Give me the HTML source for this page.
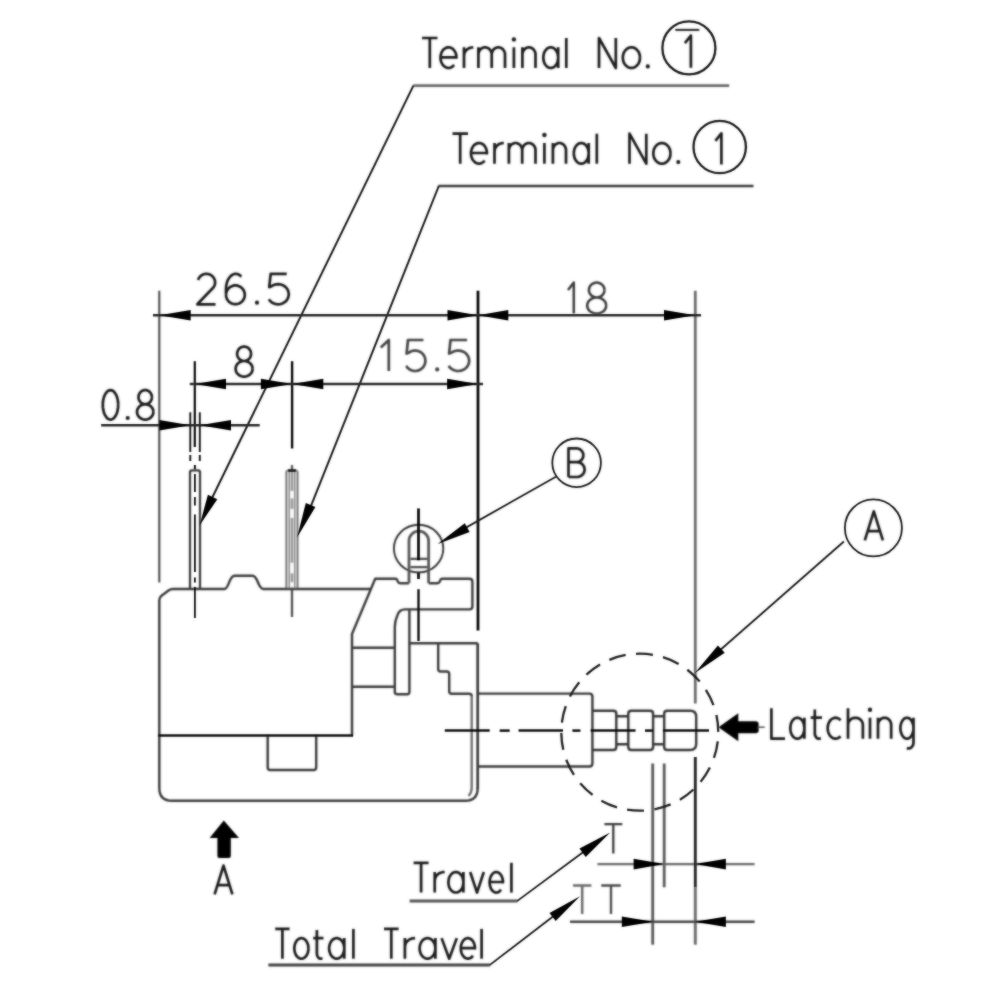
<!DOCTYPE html>
<html><head><meta charset="utf-8"><title>Switch dimension drawing</title>
<style>
html,body{margin:0;padding:0;background:#fff;}
body{width:1002px;height:1002px;overflow:hidden;font-family:"Liberation Sans",sans-serif;}
svg{display:block;}
</style></head><body>
<svg width="1002" height="1002" viewBox="0 0 1002 1002">
<defs><filter id="soft" x="-2%" y="-2%" width="104%" height="104%"><feGaussianBlur stdDeviation="0.9" result="b"/><feComposite in="SourceGraphic" in2="b" operator="arithmetic" k1="0" k2="0.35" k3="0.65" k4="0"/></filter>
<filter id="crisp" x="-2%" y="-2%" width="104%" height="104%"><feGaussianBlur stdDeviation="0.9" result="b"/><feComposite in="SourceGraphic" in2="b" operator="arithmetic" k1="0" k2="0.55" k3="0.45" k4="0"/></filter></defs>
<rect width="1002" height="1002" fill="#fff"/>
<g filter="url(#soft)">
<path d="M422 38 L437.5 38 M429.8 38 L429.8 68" fill="none" stroke="#1e1e1e" stroke-width="2.7" stroke-linejoin="round" stroke-linecap="butt"/>
<path d="M440.5 57.4 L456.5 57.4 L456.5 57.6 L456.3 55.5 L455.8 53.4 L454.9 51.5 L453.8 49.9 L452.4 48.6 L450.9 47.8 L449.2 47.3 L447.5 47.4 L445.9 47.9 L444.4 48.8 L443 50.1 L441.9 51.8 L441.1 53.7 L440.6 55.8 L440.5 58 L440.7 60.1 L441.3 62.2 L442.2 64 L443.4 65.6 L444.8 66.8 L446.4 67.6 L448 68 L449.7 67.9 L451.3 67.3 L452.8 66.3 L454.2 65" fill="none" stroke="#1e1e1e" stroke-width="2.7" stroke-linejoin="round" stroke-linecap="butt"/>
<path d="M464 68 L464 47.3 M464 56 L464 56 L464.2 54 L464.9 52.1 L466 50.5 L467.5 49.1 L469.3 48.1 L471.3 47.5 L473.3 47.3" fill="none" stroke="#1e1e1e" stroke-width="2.7" stroke-linejoin="round" stroke-linecap="butt"/>
<path d="M478.4 68 L478.4 47.3 M478.4 54.5 L478.4 54.5 L478.5 53 L479 51.6 L479.7 50.3 L480.6 49.1 L481.7 48.3 L483 47.7 L484.4 47.3 L485.7 47.3 L487.1 47.7 L488.4 48.3 L489.5 49.1 L490.4 50.3 L491.1 51.6 L491.6 53 L491.7 54.5 L491.7 68 M491.7 54.5 L491.7 54.5 L491.8 53 L492.3 51.6 L493 50.3 L493.9 49.1 L495 48.3 L496.3 47.7 L497.7 47.3 L499 47.3 L500.4 47.7 L501.7 48.3 L502.8 49.1 L503.7 50.3 L504.4 51.6 L504.9 53 L505 54.5 L505 68" fill="none" stroke="#1e1e1e" stroke-width="2.7" stroke-linejoin="round" stroke-linecap="butt"/>
<path d="M513.9 68 L513.9 47.3" fill="none" stroke="#1e1e1e" stroke-width="2.7" stroke-linejoin="round" stroke-linecap="butt"/>
<circle cx="513.9" cy="39.4" r="2.2" fill="#1e1e1e"/>
<path d="M522.4 68 L522.4 47.3 M522.4 54.5 L522.4 54.5 L522.5 53 L523 51.6 L523.7 50.3 L524.6 49.1 L525.7 48.3 L526.9 47.7 L528.3 47.3 L529.6 47.3 L531 47.7 L532.2 48.3 L533.3 49.1 L534.2 50.3 L534.9 51.6 L535.4 53 L535.5 54.5 L535.5 68" fill="none" stroke="#1e1e1e" stroke-width="2.7" stroke-linejoin="round" stroke-linecap="butt"/>
<path d="M558.2 57.6 L558 55.5 L557.6 53.4 L556.8 51.6 L555.7 50 L554.5 48.7 L553.1 47.8 L551.5 47.4 L550 47.4 L548.4 47.8 L547 48.7 L545.8 50 L544.7 51.6 L543.9 53.4 L543.5 55.5 L543.3 57.6 L543.5 59.8 L543.9 61.9 L544.7 63.7 L545.8 65.3 L547 66.6 L548.4 67.5 L550 67.9 L551.5 67.9 L553.1 67.5 L554.5 66.6 L555.7 65.3 L556.8 63.7 L557.6 61.9 L558 59.8 L558.2 57.7 M558.2 68 L558.2 47.3" fill="none" stroke="#1e1e1e" stroke-width="2.7" stroke-linejoin="round" stroke-linecap="butt"/>
<path d="M566.3 68 L566.3 38" fill="none" stroke="#1e1e1e" stroke-width="2.7" stroke-linejoin="round" stroke-linecap="butt"/>
<path d="M599 68 L599 38 L615.8 68 L615.8 38" fill="none" stroke="#1e1e1e" stroke-width="2.7" stroke-linejoin="round" stroke-linecap="butt"/>
<path d="M640 57.6 L639.8 55.5 L639.3 53.4 L638.4 51.6 L637.2 50 L635.7 48.7 L634.1 47.8 L632.3 47.4 L630.5 47.4 L628.7 47.8 L627.1 48.7 L625.6 50 L624.4 51.6 L623.5 53.4 L623 55.5 L622.8 57.6 L623 59.8 L623.5 61.9 L624.4 63.7 L625.6 65.3 L627.1 66.6 L628.7 67.5 L630.5 67.9 L632.3 67.9 L634.1 67.5 L635.7 66.6 L637.2 65.3 L638.4 63.7 L639.3 61.9 L639.8 59.8 L640 57.7" fill="none" stroke="#1e1e1e" stroke-width="2.7" stroke-linejoin="round" stroke-linecap="butt"/>
<circle cx="647.8" cy="66.4" r="2.1" fill="#1e1e1e"/>
<path d="M684.9 43.2 L690.9 35.5 L690.9 67.7" fill="none" stroke="#1e1e1e" stroke-width="2.7" stroke-linejoin="round" stroke-linecap="butt"/>
<line x1="675.3" y1="29.9" x2="699.3" y2="29.9" stroke="#1e1e1e" stroke-width="2" stroke-linecap="butt"/>
<path d="M452.5 133.7 L468 133.7 M460.2 133.7 L460.2 163.7" fill="none" stroke="#1e1e1e" stroke-width="2.7" stroke-linejoin="round" stroke-linecap="butt"/>
<path d="M471 153 L487 153 L487 153.3 L486.8 151.2 L486.3 149.1 L485.4 147.2 L484.3 145.6 L482.9 144.3 L481.4 143.5 L479.7 143 L478 143.1 L476.4 143.6 L474.9 144.5 L473.5 145.8 L472.4 147.5 L471.6 149.4 L471.1 151.5 L471 153.7 L471.2 155.8 L471.8 157.9 L472.7 159.7 L473.9 161.3 L475.3 162.5 L476.9 163.3 L478.5 163.7 L480.2 163.6 L481.8 163 L483.3 162 L484.7 160.7" fill="none" stroke="#1e1e1e" stroke-width="2.7" stroke-linejoin="round" stroke-linecap="butt"/>
<path d="M494.5 163.7 L494.5 143 M494.5 151.7 L494.5 151.7 L494.7 149.7 L495.4 147.8 L496.5 146.2 L498 144.8 L499.8 143.8 L501.8 143.2 L503.8 143" fill="none" stroke="#1e1e1e" stroke-width="2.7" stroke-linejoin="round" stroke-linecap="butt"/>
<path d="M508.9 163.7 L508.9 143 M508.9 150.2 L508.9 150.2 L509 148.7 L509.5 147.3 L510.2 146 L511.1 144.8 L512.2 144 L513.5 143.4 L514.9 143 L516.2 143 L517.6 143.4 L518.9 144 L520 144.8 L520.9 146 L521.6 147.3 L522.1 148.7 L522.2 150.2 L522.2 163.7 M522.2 150.2 L522.2 150.2 L522.3 148.7 L522.8 147.3 L523.5 146 L524.4 144.8 L525.5 144 L526.8 143.4 L528.2 143 L529.5 143 L530.9 143.4 L532.2 144 L533.3 144.8 L534.2 146 L534.9 147.3 L535.4 148.7 L535.5 150.2 L535.5 163.7" fill="none" stroke="#1e1e1e" stroke-width="2.7" stroke-linejoin="round" stroke-linecap="butt"/>
<path d="M544.4 163.7 L544.4 143" fill="none" stroke="#1e1e1e" stroke-width="2.7" stroke-linejoin="round" stroke-linecap="butt"/>
<circle cx="544.4" cy="135" r="2.2" fill="#1e1e1e"/>
<path d="M552.9 163.7 L552.9 143 M552.9 150.2 L552.9 150.2 L553 148.7 L553.5 147.3 L554.2 146 L555.1 144.8 L556.2 144 L557.4 143.4 L558.8 143 L560.1 143 L561.5 143.4 L562.7 144 L563.8 144.8 L564.7 146 L565.4 147.3 L565.9 148.7 L566 150.2 L566 163.7" fill="none" stroke="#1e1e1e" stroke-width="2.7" stroke-linejoin="round" stroke-linecap="butt"/>
<path d="M588.7 153.3 L588.5 151.2 L588.1 149.1 L587.3 147.3 L586.2 145.7 L585 144.4 L583.6 143.5 L582 143.1 L580.5 143.1 L578.9 143.5 L577.5 144.4 L576.3 145.7 L575.2 147.3 L574.4 149.1 L574 151.2 L573.8 153.3 L574 155.5 L574.4 157.6 L575.2 159.4 L576.3 161 L577.5 162.3 L578.9 163.2 L580.5 163.6 L582 163.6 L583.6 163.2 L585 162.3 L586.2 161 L587.3 159.4 L588.1 157.6 L588.5 155.5 L588.7 153.3 M588.7 163.7 L588.7 143" fill="none" stroke="#1e1e1e" stroke-width="2.7" stroke-linejoin="round" stroke-linecap="butt"/>
<path d="M596.8 163.7 L596.8 133.7" fill="none" stroke="#1e1e1e" stroke-width="2.7" stroke-linejoin="round" stroke-linecap="butt"/>
<path d="M629.5 163.7 L629.5 133.7 L646.3 163.7 L646.3 133.7" fill="none" stroke="#1e1e1e" stroke-width="2.7" stroke-linejoin="round" stroke-linecap="butt"/>
<path d="M670.5 153.3 L670.3 151.2 L669.8 149.1 L668.9 147.3 L667.7 145.7 L666.2 144.4 L664.6 143.5 L662.8 143.1 L661 143.1 L659.2 143.5 L657.6 144.4 L656.1 145.7 L654.9 147.3 L654 149.1 L653.5 151.2 L653.3 153.3 L653.5 155.5 L654 157.6 L654.9 159.4 L656.1 161 L657.6 162.3 L659.2 163.2 L661 163.6 L662.8 163.6 L664.6 163.2 L666.2 162.3 L667.7 161 L668.9 159.4 L669.8 157.6 L670.3 155.5 L670.5 153.3" fill="none" stroke="#1e1e1e" stroke-width="2.7" stroke-linejoin="round" stroke-linecap="butt"/>
<circle cx="678.3" cy="162.1" r="2.1" fill="#1e1e1e"/>
<path d="M715.4 140.8 L721.4 133.4 L721.4 164.4" fill="none" stroke="#1e1e1e" stroke-width="2.7" stroke-linejoin="round" stroke-linecap="butt"/>
<path d="M729.2 85.6 L413.2 85.6" fill="none" stroke="#6a6a6a" stroke-width="2.6" stroke-linejoin="round" stroke-linecap="butt"/>
<path d="M753.5 186 L438.4 186" fill="none" stroke="#3a3a3a" stroke-width="2.4" stroke-linejoin="round" stroke-linecap="butt"/>
<line x1="159.3" y1="290.7" x2="159.3" y2="582.5" stroke="#484848" stroke-width="2.1" stroke-linecap="butt"/>
<line x1="695.3" y1="290.7" x2="695.3" y2="703.5" stroke="#686868" stroke-width="2.7" stroke-linecap="butt"/>
<line x1="695.3" y1="887.5" x2="695.3" y2="944.7" stroke="#6a6a6a" stroke-width="2.9" stroke-linecap="butt"/>
<path d="M198 280.1 L198.7 278.4 L199.7 276.9 L201.1 275.6 L202.7 274.6 L204.5 274 L206.4 273.8 L208.3 274 L210.1 274.6 L211.7 275.6 L213.1 276.9 L214.1 278.4 L214.8 280.1 L215.1 282 L215 283.8 L214.5 285.6 L213.6 287.2 L197.3 304.3 L215.5 304.3" fill="none" stroke="#1e1e1e" stroke-width="2.7" stroke-linejoin="round" stroke-linecap="butt"/>
<path d="M226 294.8 L226.2 292.9 L226.8 291 L227.8 289.3 L229.1 287.8 L230.7 286.7 L232.5 285.9 L234.4 285.4 L236.4 285.4 L238.3 285.9 L240.1 286.7 L241.7 287.8 L243 289.3 L244 291 L244.6 292.9 L244.8 294.8 L244.6 296.8 L244 298.7 L243 300.4 L241.7 301.9 L240.1 303 L238.3 303.8 L236.4 304.2 L234.4 304.2 L232.5 303.8 L230.7 303 L229.1 301.9 L227.8 300.4 L226.8 298.7 L226.2 296.8 L226 294.8 M226 294.8 L226 289.1 L226 289.1 L226.2 285.7 L226.9 282.6 L228 279.8 L229.5 277.4 L231.3 275.5 L233.2 274.3 L235.3 273.8 L237.5 274 L239.5 275 L241.4 276.6" fill="none" stroke="#1e1e1e" stroke-width="2.7" stroke-linejoin="round" stroke-linecap="butt"/>
<circle cx="257" cy="302.7" r="2.1" fill="#1e1e1e"/>
<path d="M286.7 273.8 L270.7 273.8 L269.2 287.2 L271.9 286 L274 284.9 L276.2 284.3 L278.6 284.2 L280.9 284.5 L283 285.3 L285 286.5 L286.6 288.1 L287.8 290 L288.5 292.1 L288.8 294.2 L288.5 296.4 L287.8 298.5 L286.6 300.4 L285 301.9 L283 303.2 L280.9 304 L278.6 304.3 L276.2 304.1 L274 303.5 L271.9 302.5 L270.2 301 L268.8 299.3" fill="none" stroke="#1e1e1e" stroke-width="2.7" stroke-linejoin="round" stroke-linecap="butt"/>
<path d="M568 290 L573.8 282.6 L573.8 313.6" fill="none" stroke="#3a3a3a" stroke-width="2.5" stroke-linejoin="round" stroke-linecap="butt"/>
<path d="M604.5 290 L604.3 288.5 L603.8 287 L603 285.7 L601.9 284.5 L600.6 283.6 L599.1 283 L597.5 282.6 L595.9 282.6 L594.3 283 L592.8 283.6 L591.5 284.5 L590.4 285.7 L589.6 287 L589.1 288.5 L588.9 290 L589.1 291.6 L589.6 293.1 L590.4 294.4 L591.5 295.6 L592.8 296.5 L594.3 297.1 L595.9 297.4 L597.5 297.4 L599.1 297.1 L600.6 296.5 L601.9 295.6 L603 294.4 L603.8 293.1 L604.3 291.6 L604.5 290 M606.2 305.5 L606 303.9 L605.4 302.3 L604.4 300.8 L603.1 299.6 L601.5 298.6 L599.6 297.9 L597.7 297.5 L595.7 297.5 L593.8 297.9 L592 298.6 L590.3 299.6 L589 300.8 L588 302.3 L587.4 303.9 L587.2 305.5 L587.4 307.2 L588 308.8 L589 310.3 L590.3 311.5 L592 312.5 L593.8 313.2 L595.7 313.6 L597.7 313.6 L599.6 313.2 L601.5 312.5 L603.1 311.5 L604.4 310.3 L605.4 308.8 L606 307.2 L606.2 305.5" fill="none" stroke="#3a3a3a" stroke-width="2.5" stroke-linejoin="round" stroke-linecap="butt"/>
<path d="M251.1 353.8 L250.9 352.3 L250.5 350.9 L249.7 349.6 L248.8 348.4 L247.6 347.6 L246.3 347 L244.8 346.6 L243.4 346.6 L241.9 347 L240.6 347.6 L239.4 348.4 L238.5 349.6 L237.7 350.9 L237.3 352.3 L237.1 353.8 L237.3 355.3 L237.7 356.7 L238.5 358 L239.4 359.2 L240.6 360 L241.9 360.6 L243.4 361 L244.8 361 L246.3 360.6 L247.6 360 L248.8 359.2 L249.7 358 L250.5 356.7 L250.9 355.3 L251.1 353.8 M252.6 368.8 L252.4 367.2 L251.9 365.6 L251 364.2 L249.8 363 L248.3 362 L246.7 361.4 L245 361 L243.2 361 L241.5 361.4 L239.8 362 L238.4 363 L237.2 364.2 L236.3 365.6 L235.8 367.2 L235.6 368.8 L235.8 370.4 L236.3 372 L237.2 373.4 L238.4 374.6 L239.8 375.6 L241.5 376.2 L243.2 376.6 L245 376.6 L246.7 376.2 L248.3 375.6 L249.8 374.6 L251 373.4 L251.9 372 L252.4 370.4 L252.6 368.8" fill="none" stroke="#1e1e1e" stroke-width="2.7" stroke-linejoin="round" stroke-linecap="butt"/>
<path d="M380.8 347.4 L388.8 340 L388.8 371" fill="none" stroke="#444" stroke-width="2.7" stroke-linejoin="round" stroke-linecap="butt"/>
<path d="M423.4 340 L408 340 L406.6 353.6 L409.2 352.4 L411.2 351.3 L413.3 350.7 L415.6 350.5 L417.8 350.9 L419.9 351.7 L421.7 352.9 L423.3 354.5 L424.4 356.4 L425.2 358.6 L425.4 360.8 L425.2 363 L424.4 365.1 L423.3 367 L421.7 368.6 L419.9 369.8 L417.8 370.7 L415.6 371 L413.3 370.8 L411.2 370.2 L409.2 369.1 L407.5 367.7 L406.2 365.9" fill="none" stroke="#444" stroke-width="2.7" stroke-linejoin="round" stroke-linecap="butt"/>
<circle cx="437.2" cy="369.4" r="2.1" fill="#444"/>
<path d="M467.1 340 L450.5 340 L449.1 353.6 L451.9 352.4 L454 351.3 L456.3 350.7 L458.7 350.5 L461 350.9 L463.3 351.7 L465.3 352.9 L466.9 354.5 L468.2 356.4 L468.9 358.6 L469.2 360.8 L468.9 363 L468.2 365.1 L466.9 367 L465.3 368.6 L463.3 369.8 L461 370.7 L458.7 371 L456.3 370.8 L454 370.2 L451.9 369.1 L450 367.7 L448.6 365.9" fill="none" stroke="#444" stroke-width="2.7" stroke-linejoin="round" stroke-linecap="butt"/>
<path d="M118.2 404.9 L118.1 402.3 L117.7 399.8 L117.2 397.5 L116.4 395.4 L115.4 393.6 L114.3 392.1 L113.1 391 L111.8 390.3 L110.5 390.1 L109.2 390.3 L107.9 391 L106.7 392.1 L105.6 393.6 L104.6 395.4 L103.8 397.5 L103.3 399.8 L102.9 402.3 L102.8 404.9 L102.9 407.4 L103.3 409.9 L103.8 412.2 L104.6 414.3 L105.6 416.1 L106.6 417.6 L107.9 418.7 L109.2 419.4 L110.5 419.6 L111.8 419.4 L113.1 418.7 L114.3 417.6 L115.4 416.1 L116.4 414.3 L117.2 412.2 L117.7 409.9 L118.1 407.4 L118.2 404.9" fill="none" stroke="#1e1e1e" stroke-width="2.7" stroke-linejoin="round" stroke-linecap="butt"/>
<circle cx="127.7" cy="418" r="2.1" fill="#1e1e1e"/>
<path d="M151.9 397.2 L151.8 395.7 L151.3 394.3 L150.6 393 L149.7 391.9 L148.6 391 L147.3 390.4 L145.9 390.1 L144.5 390.1 L143.1 390.4 L141.8 391 L140.7 391.9 L139.8 393 L139.1 394.3 L138.6 395.7 L138.5 397.2 L138.6 398.7 L139.1 400.1 L139.8 401.3 L140.7 402.4 L141.8 403.3 L143.1 403.9 L144.5 404.2 L145.9 404.2 L147.3 403.9 L148.6 403.3 L149.7 402.4 L150.6 401.3 L151.3 400.1 L151.8 398.7 L151.9 397.2 M153.4 411.9 L153.2 410.3 L152.7 408.8 L151.8 407.4 L150.7 406.2 L149.3 405.3 L147.7 404.6 L146.1 404.3 L144.3 404.3 L142.7 404.6 L141.1 405.3 L139.7 406.2 L138.6 407.4 L137.7 408.8 L137.2 410.3 L137 411.9 L137.2 413.5 L137.7 415 L138.6 416.4 L139.7 417.6 L141.1 418.6 L142.7 419.2 L144.3 419.6 L146.1 419.6 L147.7 419.2 L149.3 418.6 L150.7 417.6 L151.8 416.4 L152.7 415 L153.2 413.5 L153.4 411.9" fill="none" stroke="#1e1e1e" stroke-width="2.7" stroke-linejoin="round" stroke-linecap="butt"/>
<path d="M190 588.5 V472.5 Q190 470.3 192.2 470.3 H197.8 Q200 470.3 200 472.5 V588.5" fill="none" stroke="#343434" stroke-width="2.2" stroke-linejoin="round" stroke-linecap="butt"/>
<rect x="286.2" y="470.5" width="11.4" height="118" fill="#dedede"/>
<path d="M286.3 588.5 V472.5 Q286.3 470.3 288.5 470.3 H295.4 Q297.6 470.3 297.6 472.5 V588.5" fill="none" stroke="#6e6e6e" stroke-width="1.8" stroke-linejoin="round" stroke-linecap="butt"/>
<line x1="289.4" y1="472" x2="289.4" y2="588" stroke="#8a8a8a" stroke-width="1.5" stroke-linecap="butt"/>
<line x1="294.6" y1="472" x2="294.6" y2="588" stroke="#8a8a8a" stroke-width="1.5" stroke-linecap="butt"/>
<line x1="292" y1="472" x2="292" y2="588" stroke="#9a9a9a" stroke-width="2" stroke-linecap="butt"/>
<line x1="292" y1="491" x2="292" y2="498.4" stroke="#fbfbfb" stroke-width="3.4" stroke-linecap="butt"/>
<line x1="292" y1="509" x2="292" y2="517.9" stroke="#fbfbfb" stroke-width="3.4" stroke-linecap="butt"/>
<line x1="292" y1="562.8" x2="292" y2="573.3" stroke="#fbfbfb" stroke-width="3.4" stroke-linecap="butt"/>
<line x1="292" y1="582.2" x2="292" y2="587" stroke="#fbfbfb" stroke-width="3.4" stroke-linecap="butt"/>
<line x1="292" y1="465" x2="292" y2="470" stroke="#555" stroke-width="2.2" stroke-linecap="butt"/>
<line x1="292" y1="589" x2="292" y2="617" stroke="#4a4a4a" stroke-width="2.2" stroke-linecap="butt"/>
<path d="M370 589 H263.4 C258 589 258 575.8 252.5 575.8 H234.5 C229 575.8 229 589 224.5 589 H173 Q170.5 589 168.5 590.5 L161.5 595.8 Q159.3 597.5 159.3 600.5 V788 Q159.3 800.8 172.3 800.8 H465 Q477.7 800.8 477.7 788" fill="none" stroke="#3a3a3a" stroke-width="2.4" stroke-linejoin="round" stroke-linecap="butt"/>
<path d="M477.7 789 V643.2" fill="none" stroke="#3a3a3a" stroke-width="2.7" stroke-linejoin="round" stroke-linecap="butt"/>
<path d="M471.7 696 V788 Q471.7 792.5 468.5 796" fill="none" stroke="#6e6e6e" stroke-width="2.4" stroke-linejoin="round" stroke-linecap="butt"/>
<path d="M352 735.5 V634 L375.2 578.8 H395.5 Q397 578.8 397.6 581 Q398.2 583.2 400.5 583.2 H408.9" fill="none" stroke="#3a3a3a" stroke-width="2.4" stroke-linejoin="round" stroke-linecap="butt"/>
<path d="M428.7 583.2 H437 Q439.4 583.2 440 581 Q440.6 578.8 442.5 578.8 H469.4 Q472.4 578.8 472.4 581.8 V606.6 Q472.4 609.4 469.4 609.4 H405 Q399.5 609.4 397.5 615 Q394.8 621 394.8 627 V692 Q394.8 694.2 397.4 694.2 H407.2 Q409.4 694.2 409.4 692 V609.4" fill="none" stroke="#3a3a3a" stroke-width="2.4" stroke-linejoin="round" stroke-linecap="butt"/>
<line x1="352" y1="647.8" x2="394.8" y2="647.8" stroke="#3a3a3a" stroke-width="2.4" stroke-linecap="butt"/>
<line x1="352" y1="686.7" x2="394.8" y2="686.7" stroke="#3a3a3a" stroke-width="2.4" stroke-linecap="butt"/>
<path d="M409.4 643.2 H477.7" fill="none" stroke="#3a3a3a" stroke-width="2.4" stroke-linejoin="round" stroke-linecap="butt"/>
<path d="M438.2 643.2 V669 Q438.2 671.5 440.7 671.5 H446.7 Q449.2 671.5 449.2 674 V691.3 Q449.2 693.8 451.7 693.8 H469.2 Q471.7 693.8 471.7 696.3" fill="none" stroke="#3a3a3a" stroke-width="2.4" stroke-linejoin="round" stroke-linecap="butt"/>
<path d="M267.7 735.5 V767.5 Q267.7 770 270.2 770 H313.7 Q316.2 770 316.2 767.5 V735.5" fill="none" stroke="#3a3a3a" stroke-width="2.4" stroke-linejoin="round" stroke-linecap="butt"/>
<ellipse cx="418.6" cy="548.6" rx="24.7" ry="23.9" fill="none" stroke="#333" stroke-width="1.9"/>
<path d="M409.0 583.2 V540.9 A9.8 9.8 0 0 1 428.6 540.9 V583.2" fill="none" stroke="#555" stroke-width="2.8" stroke-linejoin="round" stroke-linecap="butt"/>
<path d="M410.5 558.8 H427.2 M410.5 567.2 H427.2" fill="none" stroke="#4a4a4a" stroke-width="2.2" stroke-linejoin="round" stroke-linecap="butt"/>
<path d="M568.5 477 L568.5 448.4 L576.5 448.4 L576.5 448.4 L578 448.5 L579.3 449 L580.5 449.7 L581.6 450.7 L582.4 451.8 L583 453.1 L583.3 454.5 L583.3 456 L583 457.4 L582.4 458.7 L581.6 459.9 L580.5 460.8 L579.3 461.5 L578 462 L576.5 462.1 L568.5 462.1 M576.5 462.1 L576.9 462.1 L578.5 462.3 L580 462.8 L581.4 463.5 L582.6 464.6 L583.6 465.8 L584.2 467.3 L584.6 468.8 L584.6 470.3 L584.2 471.9 L583.6 473.3 L582.6 474.5 L581.4 475.6 L580 476.4 L578.5 476.8 L576.9 477 L568.5 477" fill="none" stroke="#1e1e1e" stroke-width="2.7" stroke-linejoin="round" stroke-linecap="butt"/>
<path d="M477.7 693.6 H589.4 Q592.4 693.6 592.4 696.6 V763.5 Q592.4 766.5 589.4 766.5 H477.7" fill="none" stroke="#3a3a3a" stroke-width="2.4" stroke-linejoin="round" stroke-linecap="butt"/>
<path d="M592.4 710.7 H613.3 Q616.3 710.7 616.3 713.7 V747 Q616.3 750 613.3 750 H592.4" fill="none" stroke="#363636" stroke-width="2.4" stroke-linejoin="round" stroke-linecap="butt"/>
<path d="M616.3 716.3 H628.3 M616.3 744.3 H628.3" fill="none" stroke="#363636" stroke-width="2.4" stroke-linejoin="round" stroke-linecap="butt"/>
<path d="M631.3 710.7 H650.1 Q653.1 710.7 653.1 713.7 V747 Q653.1 750 650.1 750 H631.3 Q628.3 750 628.3 747 V713.7 Q628.3 710.7 631.3 710.7 Z" fill="none" stroke="#363636" stroke-width="2.4" stroke-linejoin="round" stroke-linecap="butt"/>
<path d="M653.1 716.3 H664.2 M653.1 744.3 H664.2" fill="none" stroke="#363636" stroke-width="2.4" stroke-linejoin="round" stroke-linecap="butt"/>
<path d="M667.2 710.7 H690.2 Q696.2 710.7 696.2 716.7 V744 Q696.2 750 690.2 750 H667.2 Q664.2 750 664.2 747 V713.7 Q664.2 710.7 667.2 710.7 Z" fill="none" stroke="#363636" stroke-width="2.4" stroke-linejoin="round" stroke-linecap="butt"/>
<path d="M864.8 540.4 L873.8 511.4 L882.9 540.4 M867.7 531.1 L880 531.1" fill="none" stroke="#1e1e1e" stroke-width="2.7" stroke-linejoin="round" stroke-linecap="butt"/>
<path d="M718.5 727.2 L738.3 713.2 V721.2 H755.5 Q758.7 721.2 758.7 724.2 V730.2 Q758.7 733.2 755.5 733.2 H738.3 V741.2 Z" fill="#000"/>
<line x1="758" y1="727.2" x2="764.7" y2="727.2" stroke="#555" stroke-width="1.5" stroke-linecap="butt"/>
<path d="M771.4 708.3 L771.4 738.7 L785 738.7" fill="none" stroke="#1e1e1e" stroke-width="2.7" stroke-linejoin="round" stroke-linecap="butt"/>
<path d="M804.4 728.2 L804.2 726 L803.8 723.9 L803.1 722 L802.1 720.4 L800.9 719.1 L799.5 718.2 L798.1 717.8 L796.6 717.8 L795.2 718.2 L793.8 719.1 L792.6 720.4 L791.6 722 L790.9 723.9 L790.5 726 L790.3 728.2 L790.5 730.4 L790.9 732.5 L791.6 734.4 L792.6 736 L793.8 737.3 L795.2 738.2 L796.6 738.6 L798.1 738.6 L799.5 738.2 L800.9 737.3 L802.1 736 L803.1 734.4 L803.8 732.5 L804.2 730.4 L804.4 728.2 M804.4 738.7 L804.4 717.7" fill="none" stroke="#1e1e1e" stroke-width="2.7" stroke-linejoin="round" stroke-linecap="butt"/>
<path d="M814.8 709.5 L814.8 733.2 L814.8 733.2 L814.9 734.4 L815.2 735.6 L815.7 736.6 L816.3 737.5 L817.1 738.2 L817.9 738.6 L818.8 738.7 L820.9 738.7 M810.7 717.7 L822 717.7" fill="none" stroke="#1e1e1e" stroke-width="2.7" stroke-linejoin="round" stroke-linecap="butt"/>
<path d="M840.6 720.2 L839.2 718.9 L837.6 718.1 L836 717.7 L834.3 717.9 L832.6 718.5 L831.1 719.5 L829.8 721 L828.8 722.8 L828.1 724.9 L827.7 727.1 L827.7 729.3 L828.1 731.6 L828.8 733.6 L829.8 735.4 L831.1 736.9 L832.6 737.9 L834.3 738.6 L836 738.7 L837.6 738.3 L839.2 737.5 L840.6 736.2" fill="none" stroke="#1e1e1e" stroke-width="2.7" stroke-linejoin="round" stroke-linecap="butt"/>
<path d="M848 738.7 L848 708.3 M848 725 L848 725 L848.2 723.5 L848.6 722.1 L849.4 720.7 L850.5 719.6 L851.7 718.7 L853.1 718.1 L854.7 717.8 L856.2 717.8 L857.8 718.1 L859.2 718.7 L860.4 719.6 L861.5 720.7 L862.3 722.1 L862.7 723.5 L862.9 725 L862.9 738.7" fill="none" stroke="#1e1e1e" stroke-width="2.7" stroke-linejoin="round" stroke-linecap="butt"/>
<path d="M870 738.7 L870 717.7" fill="none" stroke="#1e1e1e" stroke-width="2.7" stroke-linejoin="round" stroke-linecap="butt"/>
<circle cx="870" cy="709.7" r="2.2" fill="#1e1e1e"/>
<path d="M878 738.7 L878 717.7 M878 725 L878 725 L878.1 723.5 L878.6 722.1 L879.3 720.7 L880.2 719.6 L881.3 718.7 L882.6 718.1 L883.9 717.8 L885.3 717.8 L886.6 718.1 L887.9 718.7 L889 719.6 L889.9 720.7 L890.6 722.1 L891.1 723.5 L891.2 725 L891.2 738.7" fill="none" stroke="#1e1e1e" stroke-width="2.7" stroke-linejoin="round" stroke-linecap="butt"/>
<path d="M913.5 728.2 L913.4 726 L912.9 723.9 L912.2 722 L911.3 720.4 L910.2 719.1 L909 718.2 L907.6 717.8 L906.3 717.8 L904.9 718.2 L903.7 719.1 L902.6 720.4 L901.7 722 L901 723.9 L900.5 726 L900.4 728.2 L900.5 730.4 L901 732.5 L901.7 734.4 L902.6 736 L903.7 737.3 L904.9 738.2 L906.3 738.6 L907.6 738.6 L909 738.2 L910.2 737.3 L911.3 736 L912.2 734.4 L912.9 732.5 L913.4 730.4 L913.5 728.2 M913.5 717.7 L913.5 742.3 L913.5 742.3 L913.4 743.6 L913.1 744.9 L912.5 746 L911.8 746.9 L910.9 747.7 L909.9 748.2 L908.9 748.4 L907.8 748.4 L906.8 748.1" fill="none" stroke="#1e1e1e" stroke-width="2.7" stroke-linejoin="round" stroke-linecap="butt"/>
<line x1="652.7" y1="763.5" x2="652.7" y2="944.7" stroke="#585858" stroke-width="2.8" stroke-linecap="butt"/>
<line x1="664.2" y1="763.5" x2="664.2" y2="887.3" stroke="#585858" stroke-width="2.8" stroke-linecap="butt"/>
<line x1="597.5" y1="864.1" x2="754.6" y2="864.1" stroke="#666" stroke-width="2.4" stroke-linecap="butt"/>
<line x1="570" y1="921.8" x2="754.6" y2="921.8" stroke="#444" stroke-width="2.4" stroke-linecap="butt"/>
<path d="M604.4 824.1 L622.3 824.1 M613.3 824.1 L613.3 853.6" fill="none" stroke="#3a3a3a" stroke-width="2.3" stroke-linejoin="round" stroke-linecap="butt"/>
<path d="M573 885.5 L591.4 885.5 M582.2 885.5 L582.2 914" fill="none" stroke="#6a6a6a" stroke-width="2.5" stroke-linejoin="round" stroke-linecap="butt"/>
<path d="M601.2 885.5 L620.8 885.5 M611 885.5 L611 914" fill="none" stroke="#4a4a4a" stroke-width="2.3" stroke-linejoin="round" stroke-linecap="butt"/>
<path d="M413.6 862.8 L428.6 862.8 M421.1 862.8 L421.1 892.6" fill="none" stroke="#1e1e1e" stroke-width="2.7" stroke-linejoin="round" stroke-linecap="butt"/>
<path d="M434.7 892.6 L434.7 872 M434.7 880.7 L434.7 880.7 L435 878.7 L435.7 876.9 L436.9 875.2 L438.5 873.8 L440.4 872.8 L442.5 872.2 L444.7 872" fill="none" stroke="#1e1e1e" stroke-width="2.7" stroke-linejoin="round" stroke-linecap="butt"/>
<path d="M463.4 882.3 L463.2 880.2 L462.8 878.1 L462 876.3 L460.9 874.7 L459.6 873.4 L458.2 872.5 L456.7 872.1 L455.1 872.1 L453.6 872.5 L452.1 873.4 L450.9 874.7 L449.8 876.3 L449 878.1 L448.6 880.2 L448.4 882.3 L448.6 884.5 L449 886.5 L449.8 888.4 L450.9 890 L452.1 891.2 L453.6 892.1 L455.1 892.5 L456.7 892.5 L458.2 892.1 L459.6 891.2 L460.9 890 L462 888.4 L462.8 886.5 L463.2 884.5 L463.4 882.3 M463.4 892.6 L463.4 872" fill="none" stroke="#1e1e1e" stroke-width="2.7" stroke-linejoin="round" stroke-linecap="butt"/>
<path d="M470.2 872 L477 892.6 L483.8 872" fill="none" stroke="#1e1e1e" stroke-width="2.7" stroke-linejoin="round" stroke-linecap="butt"/>
<path d="M489.6 882 L503 882 L503 882.3 L502.9 880.2 L502.4 878.1 L501.7 876.2 L500.7 874.6 L499.6 873.4 L498.3 872.5 L496.9 872.1 L495.5 872.1 L494.1 872.6 L492.8 873.5 L491.7 874.8 L490.8 876.5 L490.1 878.4 L489.7 880.5 L489.6 882.6 L489.8 884.8 L490.3 886.8 L491 888.7 L492 890.2 L493.2 891.4 L494.5 892.2 L495.9 892.6 L497.3 892.5 L498.7 891.9 L499.9 891 L501 889.6" fill="none" stroke="#1e1e1e" stroke-width="2.7" stroke-linejoin="round" stroke-linecap="butt"/>
<path d="M511.4 892.6 L511.4 862.8" fill="none" stroke="#1e1e1e" stroke-width="2.7" stroke-linejoin="round" stroke-linecap="butt"/>
<path d="M409.6 901 L517.4 901" fill="none" stroke="#555" stroke-width="3.2" stroke-linejoin="round" stroke-linecap="butt"/>
<path d="M275.2 928.9 L289.6 928.9 M282.4 928.9 L282.4 958.7" fill="none" stroke="#1e1e1e" stroke-width="2.7" stroke-linejoin="round" stroke-linecap="butt"/>
<path d="M308.5 948.4 L308.3 946.3 L307.9 944.2 L307.1 942.4 L306.2 940.8 L304.9 939.5 L303.6 938.6 L302.1 938.2 L300.7 938.2 L299.2 938.6 L297.9 939.5 L296.6 940.8 L295.7 942.4 L294.9 944.2 L294.5 946.3 L294.3 948.4 L294.5 950.6 L294.9 952.6 L295.7 954.5 L296.6 956.1 L297.9 957.3 L299.2 958.2 L300.7 958.6 L302.1 958.6 L303.6 958.2 L304.9 957.3 L306.2 956.1 L307.1 954.5 L307.9 952.6 L308.3 950.6 L308.5 948.4" fill="none" stroke="#1e1e1e" stroke-width="2.7" stroke-linejoin="round" stroke-linecap="butt"/>
<path d="M316.9 930.1 L316.9 953.3 L316.9 953.3 L317 954.5 L317.3 955.7 L317.7 956.7 L318.3 957.5 L319 958.2 L319.8 958.6 L320.6 958.7 L322.5 958.7 M313.2 938.1 L323.5 938.1" fill="none" stroke="#1e1e1e" stroke-width="2.7" stroke-linejoin="round" stroke-linecap="butt"/>
<path d="M344.3 948.4 L344.1 946.3 L343.6 944.2 L342.8 942.4 L341.8 940.8 L340.5 939.5 L339 938.6 L337.5 938.2 L335.9 938.2 L334.4 938.6 L332.9 939.5 L331.6 940.8 L330.6 942.4 L329.8 944.2 L329.3 946.3 L329.1 948.4 L329.3 950.6 L329.8 952.6 L330.6 954.5 L331.6 956.1 L332.9 957.3 L334.4 958.2 L335.9 958.6 L337.5 958.6 L339 958.2 L340.5 957.3 L341.8 956.1 L342.8 954.5 L343.6 952.6 L344.1 950.6 L344.3 948.4 M344.3 958.7 L344.3 938.1" fill="none" stroke="#1e1e1e" stroke-width="2.7" stroke-linejoin="round" stroke-linecap="butt"/>
<path d="M353.4 958.7 L353.4 928.9" fill="none" stroke="#1e1e1e" stroke-width="2.7" stroke-linejoin="round" stroke-linecap="butt"/>
<path d="M384 928.9 L398.6 928.9 M391.3 928.9 L391.3 958.7" fill="none" stroke="#1e1e1e" stroke-width="2.7" stroke-linejoin="round" stroke-linecap="butt"/>
<path d="M404.9 958.7 L404.9 938.1 M404.9 946.8 L404.9 946.8 L405.2 944.8 L405.9 943 L407.2 941.3 L408.8 939.9 L410.7 938.9 L412.9 938.3 L415.1 938.1" fill="none" stroke="#1e1e1e" stroke-width="2.7" stroke-linejoin="round" stroke-linecap="butt"/>
<path d="M435.4 948.4 L435.2 946.3 L434.7 944.2 L433.9 942.4 L432.8 940.8 L431.4 939.5 L429.9 938.6 L428.3 938.2 L426.7 938.2 L425.1 938.6 L423.6 939.5 L422.2 940.8 L421.1 942.4 L420.3 944.2 L419.8 946.3 L419.6 948.4 L419.8 950.6 L420.3 952.6 L421.1 954.5 L422.2 956.1 L423.6 957.3 L425.1 958.2 L426.7 958.6 L428.3 958.6 L429.9 958.2 L431.4 957.3 L432.8 956.1 L433.9 954.5 L434.7 952.6 L435.2 950.6 L435.4 948.4 M435.4 958.7 L435.4 938.1" fill="none" stroke="#1e1e1e" stroke-width="2.7" stroke-linejoin="round" stroke-linecap="butt"/>
<path d="M441.6 938.1 L449.2 958.7 L456.8 938.1" fill="none" stroke="#1e1e1e" stroke-width="2.7" stroke-linejoin="round" stroke-linecap="butt"/>
<path d="M460.8 948.1 L475 948.1 L475 948.4 L474.8 946.3 L474.4 944.2 L473.6 942.3 L472.6 940.7 L471.4 939.5 L470 938.6 L468.5 938.2 L467 938.2 L465.6 938.7 L464.2 939.6 L463 940.9 L462.1 942.6 L461.3 944.5 L460.9 946.6 L460.8 948.7 L461 950.9 L461.5 952.9 L462.3 954.8 L463.4 956.3 L464.6 957.5 L466 958.3 L467.5 958.7 L469 958.6 L470.4 958 L471.8 957.1 L472.9 955.7" fill="none" stroke="#1e1e1e" stroke-width="2.7" stroke-linejoin="round" stroke-linecap="butt"/>
<path d="M481.6 958.7 L481.6 928.9" fill="none" stroke="#1e1e1e" stroke-width="2.7" stroke-linejoin="round" stroke-linecap="butt"/>
<path d="M268.4 965 L490 965" fill="none" stroke="#444" stroke-width="3" stroke-linejoin="round" stroke-linecap="butt"/>
<path d="M223.8 820.6 L239 838 H230.8 V856 Q230.8 858 228.8 858 H219.4 Q217.4 858 217.4 856 V838 H209.6 Z" fill="#000"/>
<path d="M214.6 894.4 L223.5 865.6 L232.4 894.4 M217.4 885.2 L229.6 885.2" fill="none" stroke="#1e1e1e" stroke-width="2.7" stroke-linejoin="round" stroke-linecap="butt"/>
</g>
<g filter="url(#crisp)">
<circle cx="688.9" cy="47.9" r="26.5" fill="none" stroke="#1c1c1c" stroke-width="2.3"/>
<circle cx="719.7" cy="147" r="26.2" fill="none" stroke="#1c1c1c" stroke-width="2.3"/>
<line x1="413.4" y1="85.6" x2="212.3" y2="497.5" stroke="#1c1c1c" stroke-width="2" stroke-linecap="butt"/>
<polygon points="199.5,525.6 217.3,499.2 207.9,494.8" fill="#000"/>
<line x1="438.8" y1="186" x2="311" y2="505.8" stroke="#1c1c1c" stroke-width="2" stroke-linecap="butt"/>
<polygon points="297,537.6 315.4,507 305.8,503" fill="#000"/>
<line x1="478" y1="290.7" x2="478" y2="630.6" stroke="#111" stroke-width="2.9" stroke-linecap="butt"/>
<line x1="695.3" y1="757" x2="695.3" y2="887.5" stroke="#2a2a2a" stroke-width="2.9" stroke-linecap="butt"/>
<line x1="153" y1="315.2" x2="701" y2="315.2" stroke="#2a2a2a" stroke-width="2.4" stroke-linecap="butt"/>
<polygon points="159.3,315.2 190.7,320.5 190.7,309.9" fill="#000"/>
<polygon points="478,315.2 447.5,309.9 447.5,320.5" fill="#000"/>
<polygon points="478,315.2 508.3,320.5 508.3,309.9" fill="#000"/>
<polygon points="695.3,315.2 664,309.9 664,320.5" fill="#000"/>
<line x1="194.8" y1="361.2" x2="194.8" y2="447" stroke="#111" stroke-width="2.2" stroke-linecap="butt"/>
<line x1="292.1" y1="361.2" x2="292.1" y2="448.5" stroke="#111" stroke-width="2.4" stroke-linecap="butt"/>
<line x1="189.8" y1="384" x2="483" y2="384" stroke="#2a2a2a" stroke-width="2.4" stroke-linecap="butt"/>
<polygon points="194.8,384 226,389.3 226,378.7" fill="#000"/>
<polygon points="292.1,384 260.9,378.7 260.9,389.3" fill="#000"/>
<polygon points="292.1,384 323.3,389.3 323.3,378.7" fill="#000"/>
<polygon points="478,384 447.1,378.7 447.1,389.3" fill="#000"/>
<line x1="101.2" y1="425.3" x2="259.7" y2="425.3" stroke="#2a2a2a" stroke-width="2.4" stroke-linecap="butt"/>
<polygon points="190.3,425.3 159.4,420 159.4,430.6" fill="#000"/>
<polygon points="199.8,425.3 231,430.6 231,420" fill="#000"/>
<line x1="190.3" y1="412.3" x2="190.3" y2="452" stroke="#222" stroke-width="2" stroke-linecap="butt"/>
<line x1="190.3" y1="455" x2="190.3" y2="461" stroke="#222" stroke-width="2" stroke-linecap="butt"/>
<line x1="199.8" y1="412.3" x2="199.8" y2="452" stroke="#222" stroke-width="2" stroke-linecap="butt"/>
<line x1="199.8" y1="455" x2="199.8" y2="461" stroke="#222" stroke-width="2" stroke-linecap="butt"/>
<line x1="194.9" y1="465" x2="194.9" y2="469.5" stroke="#111" stroke-width="2" stroke-linecap="butt"/>
<line x1="194.9" y1="474" x2="194.9" y2="492" stroke="#111" stroke-width="1.8" stroke-linecap="butt"/>
<line x1="194.9" y1="497" x2="194.9" y2="505.5" stroke="#111" stroke-width="1.8" stroke-linecap="butt"/>
<line x1="194.9" y1="514.5" x2="194.9" y2="572" stroke="#111" stroke-width="1.8" stroke-linecap="butt"/>
<line x1="194.9" y1="577.5" x2="194.9" y2="582.5" stroke="#111" stroke-width="1.8" stroke-linecap="butt"/>
<line x1="194.9" y1="587" x2="194.9" y2="618" stroke="#111" stroke-width="1.8" stroke-linecap="butt"/>
<line x1="288.2" y1="470.6" x2="295.8" y2="470.6" stroke="#222" stroke-width="2.6" stroke-linecap="butt"/>
<line x1="158.5" y1="735.5" x2="353" y2="735.5" stroke="#111" stroke-width="2.6" stroke-linecap="butt"/>
<line x1="418.5" y1="508.4" x2="418.5" y2="560.2" stroke="#111" stroke-width="2.8" stroke-linecap="butt"/>
<line x1="418.5" y1="572.6" x2="418.5" y2="579" stroke="#111" stroke-width="2.8" stroke-linecap="butt"/>
<line x1="418.5" y1="589.2" x2="418.5" y2="641" stroke="#111" stroke-width="2.4" stroke-linecap="butt"/>
<circle cx="576.6" cy="462.8" r="24.3" fill="none" stroke="#1c1c1c" stroke-width="1.8"/>
<line x1="555.9" y1="476.7" x2="466" y2="527.6" stroke="#1c1c1c" stroke-width="1.8" stroke-linecap="butt"/>
<polygon points="437.6,544 469.6,532 464.8,523.2" fill="#000"/>
<line x1="444.8" y1="730.6" x2="489.7" y2="730.6" stroke="#111" stroke-width="2.5" stroke-linecap="butt"/>
<line x1="499.7" y1="730.6" x2="509.7" y2="730.6" stroke="#111" stroke-width="2.5" stroke-linecap="butt"/>
<line x1="518.6" y1="730.6" x2="563" y2="730.6" stroke="#111" stroke-width="2.5" stroke-linecap="butt"/>
<line x1="572.4" y1="730.6" x2="580.4" y2="730.6" stroke="#111" stroke-width="2.5" stroke-linecap="butt"/>
<line x1="590.8" y1="730.6" x2="635.5" y2="730.6" stroke="#111" stroke-width="2.5" stroke-linecap="butt"/>
<line x1="645" y1="730.6" x2="653" y2="730.6" stroke="#111" stroke-width="2.5" stroke-linecap="butt"/>
<line x1="663.5" y1="730.6" x2="709" y2="730.6" stroke="#111" stroke-width="2.5" stroke-linecap="butt"/>
<circle cx="639.8" cy="732.2" r="78.5" fill="none" stroke="#222" stroke-width="2.3" stroke-dasharray="17 10.4" stroke-dashoffset="-9.3"/>
<circle cx="873.4" cy="527.9" r="28.5" fill="none" stroke="#1c1c1c" stroke-width="1.8"/>
<line x1="843.9" y1="541.5" x2="720.5" y2="649.8" stroke="#1c1c1c" stroke-width="1.8" stroke-linecap="butt"/>
<polygon points="694.6,673.2 724.7,652.8 717.9,645.4" fill="#000"/>
<polygon points="664,864.1 633.6,858.8 633.6,869.4" fill="#000"/>
<polygon points="695.2,864.1 725.9,869.4 725.9,858.8" fill="#000"/>
<polygon points="652.8,921.8 621.8,916.5 621.8,927.1" fill="#000"/>
<polygon points="695.2,921.8 725.9,927.1 725.9,916.5" fill="#000"/>
<line x1="517" y1="901.1" x2="583" y2="852.3" stroke="#1c1c1c" stroke-width="1.8" stroke-linecap="butt"/>
<polygon points="610.2,832.4 579.5,848.6 585.7,857" fill="#000"/>
<line x1="489.6" y1="965.1" x2="553" y2="916.5" stroke="#1c1c1c" stroke-width="1.8" stroke-linecap="butt"/>
<polygon points="580,896.3 549.5,912.9 555.7,921.1" fill="#000"/>
</g>
</svg>
</body></html>
